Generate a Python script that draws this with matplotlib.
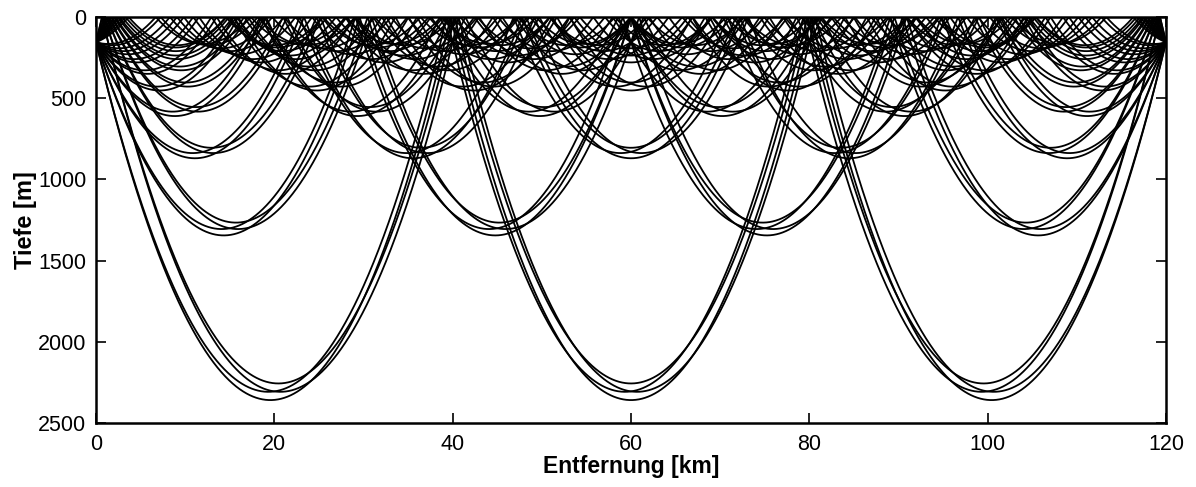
import numpy as np
import matplotlib
matplotlib.use("Agg")
import matplotlib.pyplot as plt

# eigenrays source (0 km) -> receiver (120 km), both at 155 m depth
# every ray: turning depth [m] and range of its first turning point [km]
turn_depth = [2358.9, 2308.0, 2308.0, 2256.5,
              1344.9, 1305.8, 1305.8, 1266.1,
              869.9, 838.0, 838.0, 805.3,
              610.0, 582.8, 582.8, 554.7,
              452.6, 428.6, 428.6, 403.5,
              350.1, 328.3, 328.3, 305.2,
              279.7, 259.5, 259.5, 237.4,
              229.6, 210.3, 210.3, 187.8,
              192.8, 173.8, 173.8,
              166.0]
first_turn = [19.555, 19.325, 20.675, 20.455,
              14.327, 14.088, 15.912, 15.695,
              11.090, 10.838, 13.162, 12.950,
              8.841, 8.572, 11.428, 11.226,
              7.146, 6.851, 10.292, 10.103,
              5.784, 5.452, 9.548, 9.386,
              4.624, 4.233, 9.101, 8.994,
              3.575, 3.077, 8.923, 8.969,
              2.546, 1.795, 9.114,
              1.371]

x_ticks = [0, 20, 40, 60, 80, 100, 120]
y_ticks = [0, 500, 1000, 1500, 2000, 2500]

# linear sound speed gradient -> rays are circle arcs, centres 85.5 km above the surface
Rc = 85.5  # km


def ray(D, x1, x):
    D = D / 1000.0
    L = 2 * np.sqrt((Rc + D)**2 - Rc**2)
    d = np.abs(np.mod(x - x1 + L / 2, L) - L / 2)
    z = -Rc + np.sqrt(np.maximum((Rc + D)**2 - d**2, 0))
    return np.maximum(z, 0) * 1000.0


plt.rcParams['font.family'] = ['Liberation Sans', 'DejaVu Sans']

fig = plt.figure(figsize=(11.96, 4.87), dpi=100)
ax = fig.add_axes([96 / 1196, 1 - 423 / 487, 1070 / 1196, 406 / 487])

x = np.linspace(0, 120, 12001)
for D, x1 in zip(turn_depth, first_turn):
    ax.plot(x, ray(D, x1, x), color='black', lw=1.3)

ax.set_xlim(0, 120)
ax.set_ylim(2500, 0)
ax.set_xticks(x_ticks)
ax.set_yticks(y_ticks)
ax.tick_params(direction='in', length=7, width=1.2, top=True, right=True,
               labelsize=15.5)
ax.tick_params(axis='x', pad=8)
ax.tick_params(axis='y', pad=7)
for s in ax.spines.values():
    s.set_linewidth(1.8)

ax.set_xlabel('Entfernung [km]', fontsize=16.5, fontweight='bold', labelpad=0)
ax.set_ylabel('Tiefe [m]', fontsize=17, fontweight='bold', labelpad=1)

fig.savefig("out.png", dpi=100)
